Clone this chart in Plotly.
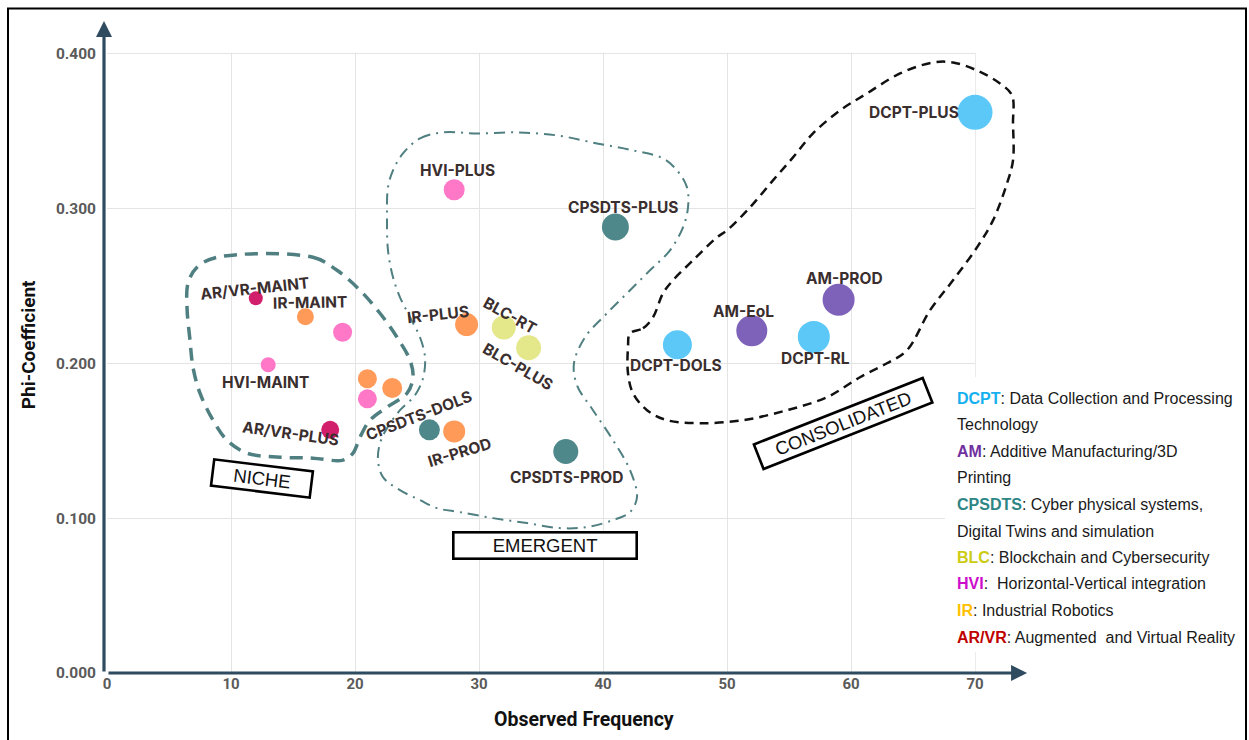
import plotly.graph_objects as go

# ---------------- data ----------------
labels = ["DCPT-PLUS", "CPSDTS-PLUS", "HVI-PLUS", "AM-PROD", "AM-EoL", "DCPT-RL",
          "DCPT-DOLS", "BLC-RT", "BLC-PLUS", "IR-PLUS", "AR/VR-MAINT", "IR-MAINT",
          "", "HVI-MAINT", "", "", "", "AR/VR-PLUS", "CPSDTS-DOLS", "IR-PROD",
          "CPSDTS-PROD"]
tech = ["DCPT", "CPSDTS", "HVI", "AM", "AM", "DCPT",
        "DCPT", "BLC", "BLC", "IR", "AR/VR", "IR",
        "HVI", "HVI", "IR", "IR", "HVI", "AR/VR", "CPSDTS", "IR",
        "CPSDTS"]
freq = [70, 41, 28, 59, 52, 57,
        46, 32, 34, 29, 12, 16,
        19, 13, 21, 23, 21, 18, 26, 28,
        37]
phi = [0.362, 0.288, 0.312, 0.241, 0.221, 0.217,
       0.212, 0.223, 0.210, 0.225, 0.242, 0.230,
       0.220, 0.199, 0.190, 0.184, 0.177, 0.157, 0.157, 0.156,
       0.143]
x_ticks = [0, 10, 20, 30, 40, 50, 60, 70]
y_ticks = [0.0, 0.1, 0.2, 0.3, 0.4]

legend_items = [
    ("DCPT", "Data Collection and Processing", "Technology"),
    ("AM", "Additive Manufacturing/3D", "Printing"),
    ("CPSDTS", "Cyber physical systems,", "Digital Twins and simulation"),
    ("BLC", "Blockchain and Cybersecurity", None),
    ("HVI", " Horizontal-Vertical integration", None),
    ("IR", "Industrial Robotics", None),
    ("AR/VR", "Augmented  and Virtual Reality", None),
]
regions = ["NICHE", "EMERGENT", "CONSOLIDATED"]

# ---------------- styles ----------------
marker_px = [35, 27, 21, 32, 31, 32, 29, 24, 25, 23, 14, 17, 19, 15, 19, 20, 19, 18, 21, 22, 25]
point_colors = {"DCPT": "#5BC8F7", "AM": "#7E62BA", "CPSDTS": "#4F888B", "BLC": "#E4E78A",
                "HVI": "#FF78C8", "IR": "#FF9A58", "AR/VR": "#D21F6C"}
legend_colors = {"DCPT": "#16B0EE", "AM": "#7030A0", "CPSDTS": "#2E8585", "BLC": "#CCCC14",
                 "HVI": "#CC0ECC", "IR": "#FFC000", "AR/VR": "#C00000"}
# label offset in px (dx right, dy down) and rotation
label_style = {
    "DCPT-PLUS": (-61, 0, 0), "CPSDTS-PLUS": (8, -19, 0), "HVI-PLUS": (3, -19, 0),
    "AM-PROD": (6, -21, 0), "AM-EoL": (-8, -19, 0), "DCPT-RL": (2, 22, 0),
    "DCPT-DOLS": (-1, 21, 0), "BLC-RT": (6, -12, 29), "BLC-PLUS": (-11, 19, 30),
    "IR-PLUS": (-29, -10, -6), "AR/VR-MAINT": (-1, -10, -6), "IR-MAINT": (5, -14, -1),
    "HVI-MAINT": (-3, 18, 0), "AR/VR-PLUS": (-40, 4, 8), "CPSDTS-DOLS": (-10, -14, -21),
    "IR-PROD": (5, 21, -17), "CPSDTS-PROD": (1, 26, 0),
}

# plot geometry: axis ranges extended a little so the sketched outlines are not clipped
XR, YR = 75, 0.43          # full axis ranges
XMAX, YMAX = 70, 0.4       # last gridline / tick
L = 107
W = XR * 12.4
H = YR * 1550
T = 673 - H


def sketch(pts):
    xs = [(px - L) / W * XR for px, py in pts]
    ys = [(T + H - py) / H * YR for px, py in pts]
    return xs + [xs[0]], ys + [ys[0]]


def px_x(px):
    return (px - L) / W


def px_y(py):
    return (T + H - py) / H


niche_outline = [(217, 257), (313, 257), (337, 270), (360, 290), (380, 313), (397, 337),
                 (410, 360), (413, 377), (407, 393), (387, 407), (370, 420), (360, 437),
                 (353, 453), (343, 460), (313, 458), (280, 457), (247, 453), (227, 440),
                 (213, 420), (200, 393), (193, 367), (190, 340), (187, 307), (188, 283),
                 (197, 267)]
emergent_outline = [(403, 153), (420, 138), (443, 132), (477, 133), (517, 132), (557, 135),
                    (597, 143), (633, 150), (663, 158), (677, 170), (687, 187), (688, 207),
                    (683, 227), (670, 250), (650, 270), (628, 292), (605, 315), (585, 337),
                    (574, 363), (577, 385), (593, 410), (613, 440), (630, 470), (637, 497),
                    (630, 512), (613, 520), (587, 527), (560, 528), (527, 523), (493, 518),
                    (460, 512), (437, 508), (420, 500), (400, 490), (383, 477), (378, 460),
                    (380, 443), (387, 428), (400, 410), (415, 395), (423, 378), (425, 357),
                    (420, 337), (410, 317), (400, 297), (393, 277), (388, 250), (387, 217),
                    (388, 187), (393, 170)]
consolidated_outline = [(630, 333), (643, 328), (653, 317), (663, 293), (673, 280), (693, 260),
                        (717, 237), (727, 230), (750, 207), (773, 180), (793, 157), (813, 133),
                        (840, 110), (867, 93), (900, 73), (933, 62), (953, 62), (977, 70),
                        (1000, 83), (1012, 95), (1013, 123), (1013, 160), (1007, 183),
                        (993, 220), (977, 247), (953, 280), (930, 310), (907, 350), (887, 363),
                        (860, 377), (827, 397), (787, 410), (743, 420), (700, 423), (667, 420),
                        (647, 410), (633, 393), (628, 373), (628, 347)]

fig = go.Figure()

for pts, color, width, dash in [
    (niche_outline, "#4F7F80", 3.5, "13px,8px"),
    (emergent_outline, "#4F7F80", 2, "11px,6px,2px,6px"),
    (consolidated_outline, "#111111", 2.5, "9px,6px"),
]:
    xs, ys = sketch(pts)
    fig.add_trace(go.Scatter(x=xs, y=ys, mode="lines",
                             line=dict(color=color, width=width, dash=dash, shape="spline", smoothing=1.0),
                             hoverinfo="skip", showlegend=False))

fig.add_trace(go.Scatter(
    x=freq, y=phi, mode="markers", cliponaxis=False, showlegend=False,
    marker=dict(size=marker_px, color=[point_colors[t] for t in tech], opacity=1,
                line=dict(width=0)),
    text=labels, hovertemplate="%{text}<br>%{x}, %{y:.3f}<extra></extra>",
))

annotations = []
for lab, xv, yv in zip(labels, freq, phi):
    if not lab:
        continue
    dx, dy, ang = label_style[lab]
    annotations.append(dict(x=xv, y=yv, xref="x", yref="y", text=lab, showarrow=False,
                            xshift=dx, yshift=-dy, textangle=ang,
                            xanchor="center", yanchor="middle",
                            font=dict(family="Inter", size=15.5, color="#3A2E2E", weight="bold")))

# axis arrows
annotations.append(dict(x=74.2, y=0, ax=0, ay=0, xref="x", yref="y", axref="x", ayref="y",
                        showarrow=True, arrowhead=2, arrowsize=1, arrowwidth=3.2,
                        arrowcolor="#2F4B5F", text=""))
annotations.append(dict(x=0, y=0.421, ax=0, ay=0, xref="x", yref="y", axref="x", ayref="y",
                        showarrow=True, arrowhead=2, arrowsize=1, arrowwidth=3.2,
                        arrowcolor="#2F4B5F", text="", xshift=-3))

# axis titles
annotations.append(dict(x=px_x(584), y=px_y(720), xref="paper", yref="paper",
                        xanchor="center", yanchor="middle",
                        text="<b>Observed Frequency</b>", showarrow=False,
                        font=dict(family="Roboto", size=19.5, color="#111111")))
annotations.append(dict(x=px_x(28), y=px_y(345), xref="paper", yref="paper",
                        xanchor="center", yanchor="middle",
                        text="<b>Phi-Coefficient</b>", showarrow=False, textangle=-90,
                        font=dict(family="Roboto", size=19, color="#111111")))

# region boxes
for name, cx, cy, w, ang in zip(regions, [262, 545, 843], [478, 545, 423], [94, 178, 176], [7, 0, -21.5]):
    annotations.append(dict(x=px_x(cx), y=px_y(cy), xref="paper", yref="paper",
                            text=name, showarrow=False, textangle=ang, width=w, height=21,
                            bordercolor="#000000", borderwidth=2.6, borderpad=1.5,
                            bgcolor="#FFFFFF", xanchor="center", yanchor="middle",
                            font=dict(family="Liberation Sans", size=18.5, color="#111111")))

# legend text block
line_y = [398, 424, 451, 477, 504, 531, 557, 583, 610, 637]
i = 0
for abbr, desc, cont in legend_items:
    annotations.append(dict(x=px_x(955), y=px_y(line_y[i]), xref="paper", yref="paper",
                            xanchor="left", yanchor="middle", showarrow=False,
                            text=f"<span style='color:{legend_colors[abbr]}'><b>{abbr}</b></span>: {desc}",
                            font=dict(family="Liberation Sans", size=16, color="#1A1A1A")))
    i += 1
    if cont:
        annotations.append(dict(x=px_x(955), y=px_y(line_y[i]), xref="paper", yref="paper",
                                xanchor="left", yanchor="middle", showarrow=False, text=cont,
                                font=dict(family="Liberation Sans", size=16, color="#1A1A1A")))
        i += 1

shapes = [
    # hide gridlines beyond the last ticks (x > 70, y > 0.4)
    dict(type="rect", xref="x", yref="y", x0=XMAX + 0.06, x1=XR, y0=0, y1=YR,
         fillcolor="white", line=dict(width=0), layer="between"),
    dict(type="rect", xref="x", yref="y", x0=0, x1=XR, y0=YMAX + 0.0005, y1=YR,
         fillcolor="white", line=dict(width=0), layer="between"),
    # white panel behind the legend text
    dict(type="rect", xref="paper", yref="paper", x0=px_x(945), x1=px_x(1245),
         y0=px_y(652), y1=px_y(377), fillcolor="white", line=dict(width=0),
         layer="above"),
    # outer frame
    dict(type="rect", xref="paper", yref="paper", x0=px_x(8), x1=px_x(1246),
         y0=px_y(745), y1=px_y(8), line=dict(color="#000000", width=2),
         fillcolor="rgba(0,0,0,0)", layer="above"),
]

fig.update_layout(
    width=1249, height=740,
    margin=dict(l=L, r=1249 - L - W, t=T, b=740 - T - H),
    paper_bgcolor="white", plot_bgcolor="white",
    showlegend=False,
    xaxis=dict(range=[0, XR], tickvals=x_ticks, ticktext=[str(v) for v in x_ticks],
               showgrid=True, gridcolor="#E4E4E4", gridwidth=1, zeroline=False, showline=False,
               ticks="", tickfont=dict(family="Roboto", size=15, color="#5A5A5A", weight="bold")),
    yaxis=dict(range=[0, YR], tickvals=y_ticks, ticktext=[f"{v:.3f}" for v in y_ticks],
               showgrid=True, gridcolor="#E4E4E4", gridwidth=1, zeroline=False, showline=False,
               ticks="", ticklabelstandoff=10,
               tickfont=dict(family="Roboto", size=15.5, color="#5A5A5A", weight="bold")),
    annotations=annotations,
    shapes=shapes,
)

fig.write_html("out.html", config={"displayModeBar": False},
               post_script="document.body.style.margin='0';")
